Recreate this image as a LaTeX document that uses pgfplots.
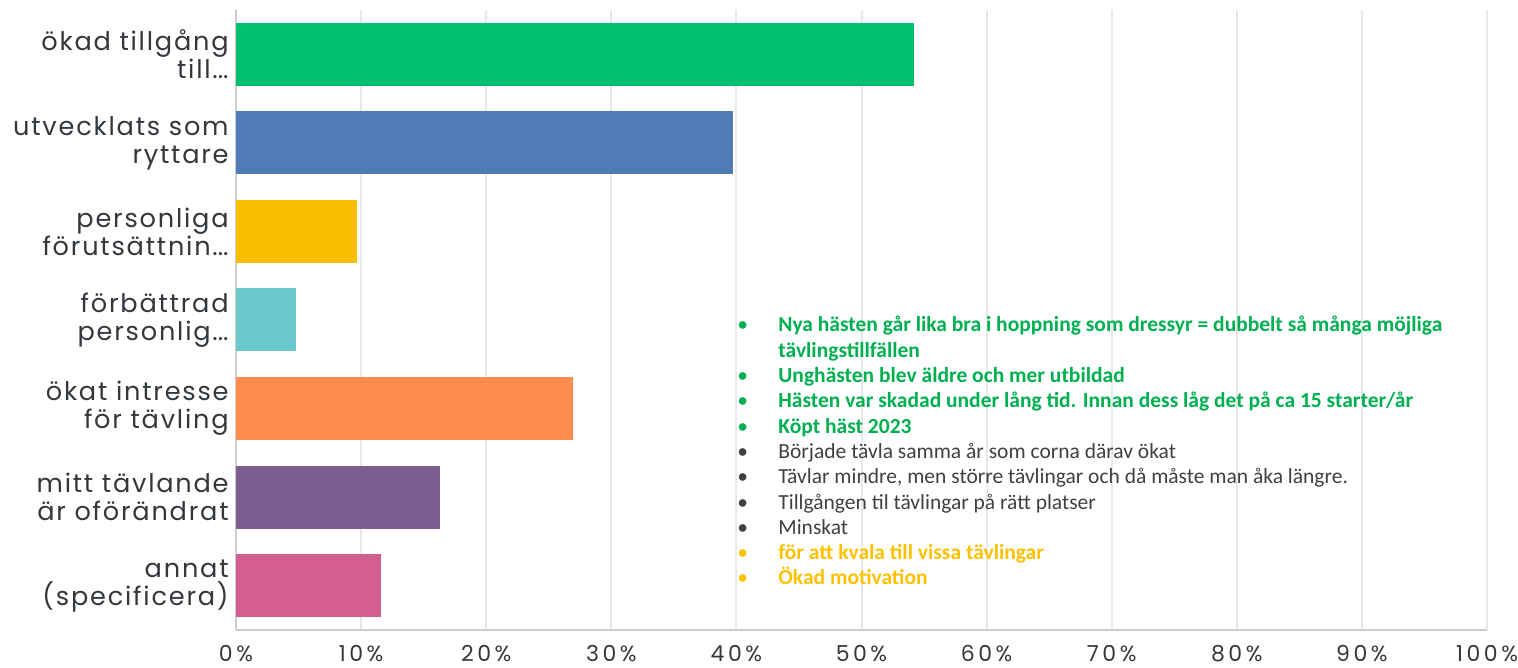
\documentclass[border=0pt]{standalone}
\usepackage{fontspec}
\setmainfont{Carlito}
\newfontfamily\labfont[LetterSpace=7]{Poppins}
\newfontfamily\tickfont[LetterSpace=16]{Poppins}
\usepackage{pgfplots}
\pgfplotsset{compat=1.18}
\definecolor{cGreen}{HTML}{00BF6F}
\definecolor{cBlue}{HTML}{507CB6}
\definecolor{cYellow}{HTML}{F9BE00}
\definecolor{cTeal}{HTML}{6BC8CD}
\definecolor{cOrange}{HTML}{FF8B4F}
\definecolor{cPurple}{HTML}{7D5E90}
\definecolor{cPink}{HTML}{D25F90}
\definecolor{labgray}{HTML}{33383D}
\definecolor{gridgray}{HTML}{E8E8E8}
\definecolor{axisgray}{HTML}{CDCDCD}
\definecolor{tGreen}{HTML}{00B050}
\definecolor{tGray}{HTML}{404040}
\definecolor{tYellow}{HTML}{FFC000}
\newcommand{\dd}{.\kern0pt.\kern0pt.}
\begin{document}
\begin{tikzpicture}
\begin{axis}[
  scale only axis, width=625.5pt, height=310pt,
  xmin=0, xmax=100, ymin=-0.5, ymax=6.5,
  xbar, bar width=31.5pt, bar shift=0pt,
  xtick={0,10,...,100},
  /pgf/number format/assume math mode=true,
  xticklabel={\pgfmathprintnumber{\tick}\%},
  xticklabel style={font=\tickfont\fontsize{11}{13}\selectfont, text=labgray, inner sep=0pt, yshift=-7.5pt},
  ytick={0,1,2,3,4,5,6},
  yticklabels={{annat\\(specificera)},{mitt tävlande\\är oförändrat},{ökat intresse\\för tävling},{förbättrad\\personlig\dd},{personliga\\förutsättnin\dd},{utvecklats som\\ryttare},{ökad tillgång\\till\dd}},
  yticklabel style={align=right, font=\labfont\fontsize{12.8}{14}\selectfont, text=labgray, inner sep=0pt, xshift=-3.5pt},
  major tick length=0pt,
  xmajorgrids, grid style={draw=gridgray, line width=1pt},
  axis lines=left, axis line style={-, draw=axisgray, line width=1.2pt},
  every axis plot/.append style={draw=none},
]
\addplot[fill=cGreen] coordinates {(54.2,6)};
\addplot[fill=cBlue] coordinates {(39.7,5)};
\addplot[fill=cYellow] coordinates {(9.7,4)};
\addplot[fill=cTeal] coordinates {(4.8,3)};
\addplot[fill=cOrange] coordinates {(26.9,2)};
\addplot[fill=cPurple] coordinates {(16.3,1)};
\addplot[fill=cPink] coordinates {(11.6,0)};
\node[anchor=north west, align=left, inner sep=0pt, font=\fontsize{10.75}{12.65}\selectfont]
  at (rel axis cs:0.4005,0.5065) {%
  \textcolor{tGreen}{\makebox[20.5pt][l]{•}\textbf{Nya hästen går lika bra i hoppning som dressyr = dubbelt så många möjliga}}\\
  \textcolor{tGreen}{\makebox[20.5pt][l]{}\textbf{tävlingstillfällen}}\\
  \textcolor{tGreen}{\makebox[20.5pt][l]{•}\textbf{Unghästen blev äldre och mer utbildad}}\\
  \textcolor{tGreen}{\makebox[20.5pt][l]{•}\textbf{Hästen var skadad under lång tid. Innan dess låg det på ca 15 starter/år}}\\
  \textcolor{tGreen}{\makebox[20.5pt][l]{•}\textbf{Köpt häst 2023}}\\
  \textcolor{tGray}{\makebox[20.5pt][l]{•}Började tävla samma år som corna därav ökat}\\
  \textcolor{tGray}{\makebox[20.5pt][l]{•}Tävlar mindre, men större tävlingar och då måste man åka längre.}\\
  \textcolor{tGray}{\makebox[20.5pt][l]{•}Tillgången til tävlingar på rätt platser}\\
  \textcolor{tGray}{\makebox[20.5pt][l]{•}Minskat}\\
  \textcolor{tYellow}{\makebox[20.5pt][l]{•}\textbf{för att kvala till vissa tävlingar}}\\
  \textcolor{tYellow}{\makebox[20.5pt][l]{•}\textbf{Ökad motivation}}};
\end{axis}
\pgfresetboundingbox
\path[use as bounding box] ([xshift=-118pt,yshift=-19pt]current axis.south west) rectangle ([xshift=641pt,yshift=315pt]current axis.south west);
\end{tikzpicture}
\end{document}
